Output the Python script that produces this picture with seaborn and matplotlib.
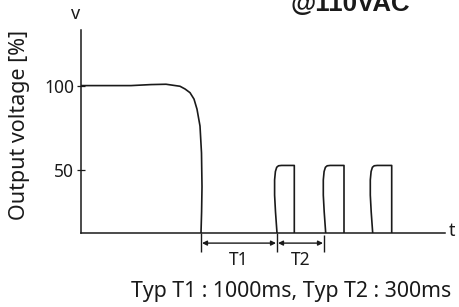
import matplotlib
matplotlib.use("Agg")
import matplotlib.pyplot as plt
import seaborn as sns
import numpy as np

# ---- data (schematic time units, voltage in %) ----
main_t = [0, 50, 70, 85, 99, 104, 109, 113, 116, 119, 120.5, 121, 120.6, 120]
main_v = [100, 100, 100.6, 100.8, 99.6, 98, 95.8, 92, 86, 76, 60, 40, 25, 12.5]

pulse_start = [196.0, 244.7, 291.7]
pulse_end = [213.3, 263.0, 310.7]
rise_dt = [0, -1.5, -2.4, -2.4, -1.6, -0.3, 1.5, 4.5]
rise_v = [12.5, 25, 35, 44, 49, 51.5, 52.4, 52.6]

baseline = 12.5
t1_bounds = [120, 196]
t2_bounds = [196, 243]
yticks = [50, 100]
ytick_labels = ["50", "100"]

title = "@110VAC"
ylabel = "Output voltage [%]"
caption = "Typ T1 : 1000ms, Typ T2 : 300ms"

W, H = 459, 307
sns.set_theme(style="white")
plt.rcParams["font.family"] = ["Noto Sans", "DejaVu Sans"]
ink = "#1a1a1a"

fig = plt.figure(figsize=(W / 100, H / 100), dpi=100)
ax = fig.add_axes([81 / W, (H - 233) / H, (445 - 81) / W, (233 - 30) / H])
ax.set_xlim(0, 364)
ax.set_ylim(baseline, 133)

sns.lineplot(x=main_t, y=main_v, sort=False, estimator=None, ax=ax,
             color=ink, linewidth=1.2)
for s, e in zip(pulse_start, pulse_end):
    pt = [s + d for d in rise_dt] + [e, e]
    pv = list(rise_v) + [rise_v[-1], baseline]
    sns.lineplot(x=pt, y=pv, sort=False, estimator=None, ax=ax,
                 color=ink, linewidth=1.2)

for sp in ["top", "right"]:
    ax.spines[sp].set_visible(False)
for sp in ["left", "bottom"]:
    ax.spines[sp].set_color(ink)
    ax.spines[sp].set_linewidth(1.1)
ax.set_xticks([])
ax.set_yticks(yticks)
ax.set_yticklabels(ytick_labels)
ax.tick_params(axis="y", direction="inout", length=6, width=0.9, color=ink,
               labelsize=12.5, labelcolor=ink, pad=2, left=True)
ax.set_xlabel("")
ax.set_ylabel("")

# dimension lines below the axis
ext_low = 1.2
ax.vlines([t1_bounds[0], t1_bounds[1], t2_bounds[1]],
          [baseline, baseline, baseline - 1], ext_low, colors=ink,
          linewidth=1.0, clip_on=False)
ya = 6.5
for (a, b), lab in [(t1_bounds, "T1"), (t2_bounds, "T2")]:
    ax.annotate("", xy=(a + 1, ya), xytext=(b - 1, ya),
                arrowprops=dict(arrowstyle="<|-|>", color=ink, lw=1.0,
                                shrinkA=0, shrinkB=0, mutation_scale=7),
                annotation_clip=False)
    ax.text((a + b) / 2, -3.3, lab, ha="center", va="center",
            fontsize=12.5, color=ink, clip_on=False)

fig.text(20 / W, 1 - 125 / H, ylabel, rotation=90, ha="center", va="center",
         fontsize=15.5, color=ink)
fig.text(76 / W, 1 - 14 / H, "v", ha="center", va="center", fontsize=13,
         color=ink)
fig.text(452 / W, 1 - 231 / H, "t", ha="center", va="center", fontsize=13,
         color=ink)
fig.text(291.5 / W, 1 - 297 / H, caption, ha="center", va="baseline",
         fontsize=15.3, color=ink)
fig.text(350.5 / W, 1 - 11 / H, title, ha="center", va="baseline",
         fontsize=18.6, fontweight="bold", color=ink,
         family=["Liberation Sans", "DejaVu Sans"])

fig.savefig("out.png", dpi=100)
